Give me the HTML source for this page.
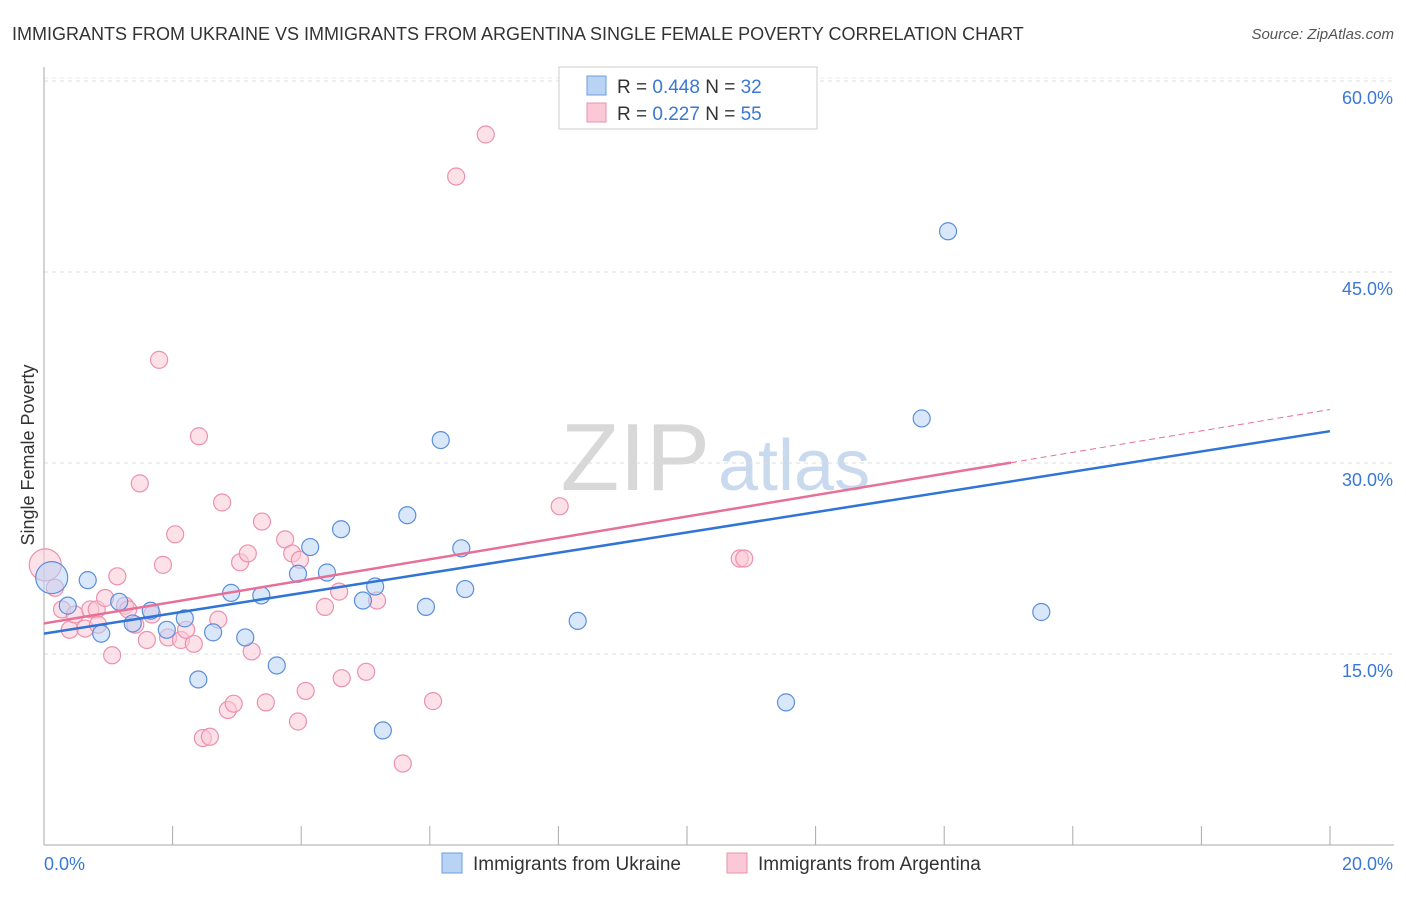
<!DOCTYPE html>
<html><head><meta charset="utf-8"><style>
body{margin:0;background:#fff;font-family:"Liberation Sans",sans-serif;}
svg text{font-family:"Liberation Sans",sans-serif;}
</style></head><body>
<svg id="c" width="1406" height="892">
<text x="12" y="40" font-size="18" fill="#333">IMMIGRANTS FROM UKRAINE VS IMMIGRANTS FROM ARGENTINA SINGLE FEMALE POVERTY CORRELATION CHART</text>
<text x="1394" y="39" font-size="15" fill="#555" font-style="italic" text-anchor="end">Source: ZipAtlas.com</text>
<text x="34" y="455" font-size="18" fill="#333" transform="rotate(-90 34 455)" text-anchor="middle">Single Female Poverty</text>
<text x="710" y="490" font-size="96" fill="#d8d8d8" text-anchor="end" font-family="Liberation Serif">ZIP</text>
<text x="718" y="490" font-size="72" fill="#c9d9ee">atlas</text>
<g id="grid"></g><g id="marks"></g>
<g>
<rect x="559" y="67" width="258" height="62" fill="#fff" stroke="#ccc"/>
<rect x="587" y="76" width="19" height="19" fill="#b9d3f5" stroke="#6c9de0"/>
<rect x="587" y="103" width="19" height="19" fill="#fbc8d7" stroke="#ec91ad"/>
<text x="617" y="93" font-size="19" fill="#333">R = <tspan fill="#3a78d4">0.448</tspan>   N = <tspan fill="#3a78d4">32</tspan></text>
<text x="617" y="120" font-size="19" fill="#333">R =  <tspan fill="#3a78d4">0.227</tspan>   N = <tspan fill="#3a78d4">55</tspan></text>
</g>
<rect x="442" y="853" width="20" height="20" fill="#b9d3f5" stroke="#6c9de0"/>
<text x="473" y="870" font-size="19" fill="#333">Immigrants from Ukraine</text>
<rect x="727" y="853" width="20" height="20" fill="#fbc8d7" stroke="#ec91ad"/>
<text x="758" y="870" font-size="19" fill="#333">Immigrants from Argentina</text>
</svg>
<script>
const yTicks=[15,30,45,60];
const yTickLabels=["15.0%","30.0%","45.0%","60.0%"];
const xTickVals=[0,2,4,6,8,10,12,14,16,18,20];
const blueX=[0.12,0.37,0.68,0.89,1.17,1.38,1.66,1.91,2.19,2.40,2.63,2.91,3.13,3.38,3.62,3.95,4.14,4.40,4.62,4.96,5.15,5.27,5.65,5.94,6.17,6.49,6.55,8.30,11.54,13.65,14.06,15.51];
const blueY=[21.0,18.8,20.8,16.6,19.1,17.4,18.4,16.9,17.8,13.0,16.7,19.8,16.3,19.6,14.1,21.3,23.4,21.4,24.8,19.2,20.3,9.0,25.9,18.7,31.8,23.3,20.1,17.6,11.2,33.5,48.2,18.3];
const pinkX=[0.02,0.17,0.28,0.40,0.48,0.64,0.72,0.82,0.84,0.95,1.06,1.14,1.26,1.31,1.42,1.49,1.60,1.68,1.79,1.85,1.93,2.04,2.13,2.21,2.33,2.41,2.47,2.58,2.71,2.77,2.86,2.95,3.05,3.17,3.23,3.39,3.45,3.75,3.86,3.98,3.95,4.07,4.37,4.59,4.63,5.01,5.18,5.58,6.05,6.41,6.87,8.02,10.82,10.89];
const pinkY=[22.0,20.2,18.5,16.9,18.1,17.0,18.5,18.5,17.3,19.4,14.9,21.1,18.8,18.5,17.3,28.4,16.1,18.1,38.1,22.0,16.3,24.4,16.1,16.9,15.8,32.1,8.4,8.5,17.7,26.9,10.6,11.1,22.2,22.9,15.2,25.4,11.2,24.0,22.9,22.4,9.7,12.1,18.7,19.9,13.1,13.6,19.2,6.4,11.3,52.5,55.8,26.6,22.5,22.5];
const blueLine=[16.6,32.5];
const pinkLine=[17.4,34.2];
const pinkSolidEnd=15.04;
const X=v=>44+v*64.3, Y=v=>845-v*12.733;
const NS="http://www.w3.org/2000/svg";
const grid=document.getElementById('grid'), marks=document.getElementById('marks');
function mk(p,tag,a){const e=document.createElementNS(NS,tag);for(const k in a)e.setAttribute(k,a[k]);p.appendChild(e);return e;}
yTicks.forEach((t,i)=>{
 const l=mk(grid,'line',{x1:44,x2:1394,y1:Y(t),y2:Y(t),stroke:'#ddd','stroke-dasharray':'4,4'});
 
 
 const tx=mk(grid,'text',{x:1393,y:Y(t)+23,'font-size':18,fill:'#3a78d4','text-anchor':'end'});
 tx.textContent=yTickLabels[i];
 
 
});
const tg=mk(grid,'line',{x1:44,x2:1394,y1:Y(60)-3,y2:Y(60)-3,stroke:'#eee','stroke-dasharray':'4,4'});


const ya=mk(grid,'line',{x1:44,x2:44,y1:67,y2:845,stroke:'#aaa'});


const xa=mk(grid,'line',{x1:44,x2:1394,y1:845,y2:845,stroke:'#aaa'});


xTickVals.forEach(v=>{
 const t=mk(grid,'line',{x1:X(v),x2:X(v),y1:826,y2:845,stroke:'#aaa'});
 
 
});
const xl0=mk(grid,'text',{x:44,y:870,'font-size':18,fill:'#3a78d4'});xl0.textContent='0.0%';


const xl1=mk(grid,'text',{x:1393,y:870,'font-size':18,fill:'#3a78d4','text-anchor':'end'});xl1.textContent='20.0%';


function dots(xs,ys,fill,stroke,name){xs.forEach((x,i)=>{
 const c=mk(marks,'circle',{cx:X(x),cy:Y(ys[i]),r:(i===0?16:8.5),fill:fill,'fill-opacity':0.55,stroke:stroke,'stroke-width':1.2});
 
 
});}
dots(pinkX,pinkY,'#fbc8d7','#ec91ad','argentina-point');
dots(blueX,blueY,'#b9d3f5','#5b8fdc','ukraine-point');
const pm=pinkLine[0]+(pinkLine[1]-pinkLine[0])*pinkSolidEnd/20;
const pd=mk(marks,'line',{x1:X(pinkSolidEnd),y1:Y(pm),x2:X(20),y2:Y(pinkLine[1]),stroke:'#e76f98','stroke-width':1,'stroke-dasharray':'6,4'});


const pl=mk(marks,'line',{x1:X(0),y1:Y(pinkLine[0]),x2:X(pinkSolidEnd),y2:Y(pm),stroke:'#e76f98','stroke-width':2.5});


const bl=mk(marks,'line',{x1:X(0),y1:Y(blueLine[0]),x2:X(20),y2:Y(blueLine[1]),stroke:'#2f74d6','stroke-width':2.5});


</script>
</body></html>
